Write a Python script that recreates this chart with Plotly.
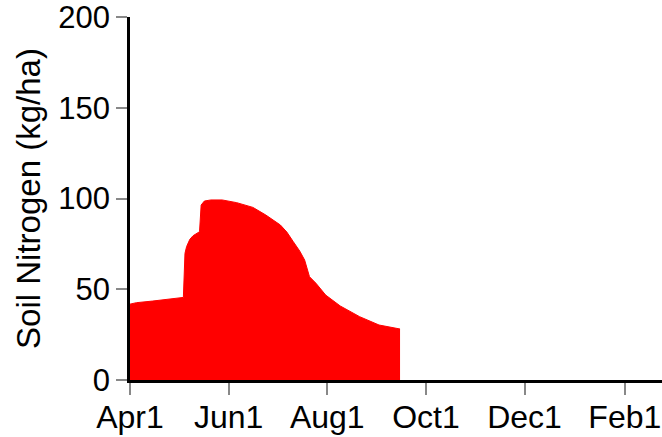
import plotly.graph_objects as go

dates = ["2001-04-01", "2001-04-05", "2001-04-15", "2001-04-25", "2001-05-04",
         "2001-05-05", "2001-05-06", "2001-05-08", "2001-05-10", "2001-05-14",
         "2001-05-15", "2001-05-17", "2001-05-21", "2001-05-28", "2001-06-06",
         "2001-06-16", "2001-06-24", "2001-07-03", "2001-07-07", "2001-07-11",
         "2001-07-15", "2001-07-18", "2001-07-21", "2001-07-25", "2001-07-31",
         "2001-08-09", "2001-08-21", "2001-09-02", "2001-09-09", "2001-09-15"]
soil_n = [41.8, 42.6, 43.5, 44.5, 45.5,
          69.8, 73.5, 77.5, 79.5, 81.7,
          96.4, 98.6, 99.2, 99.2, 97.7,
          95.1, 90.9, 85.4, 81.5, 76.2,
          71.0, 66.1, 56.9, 53.3, 46.8,
          40.8, 34.9, 30.3, 29.0, 28.1]

tick_dates = ["2001-04-01", "2001-06-01", "2001-08-01", "2001-10-01", "2001-12-01", "2002-02-01"]
tick_labels = ["Apr1", "Jun1", "Aug1", "Oct1", "Dec1", "Feb1"]
y_ticks = [0, 50, 100, 150, 200]

FONT = "Liberation Sans, Arial, sans-serif"

fig = go.Figure()
fig.add_trace(go.Scatter(
    x=dates, y=soil_n, mode="lines", fill="tozeroy",
    fillcolor="#ff0000", line=dict(color="#ff0000", width=1),
    showlegend=False, hoverinfo="skip",
))

fig.update_layout(
    width=662, height=437,
    margin=dict(l=130, r=0, t=17, b=57, autoexpand=False),
    paper_bgcolor="white", plot_bgcolor="white",
    font=dict(family=FONT, size=31, color="black"),
    showlegend=False,
)
fig.update_xaxes(
    type="date", range=["2001-04-01", "2002-02-24"],
    tickvals=tick_dates, ticktext=tick_labels,
    showgrid=False, zeroline=False,
    showline=True, linecolor="black", linewidth=2.5,
    ticks="outside", ticklen=12, tickwidth=2, tickcolor="#888888",
    tickfont=dict(family=FONT, size=32, color="black"),
    ticklabelstandoff=-5, ticklabeloverflow="allow",
    automargin=False,
)
fig.update_yaxes(
    range=[0, 200], tickvals=y_ticks,
    showgrid=False, zeroline=False,
    showline=True, linecolor="black", linewidth=2.5,
    ticks="outside", ticklen=11, tickwidth=2, tickcolor="#888888",
    tickfont=dict(family=FONT, size=31, color="black"),
    ticklabeloverflow="allow",
    title=dict(text="Soil Nitrogen (kg/ha)", font=dict(family=FONT, size=33, color="black"), standoff=8),
    automargin=False,
)

fig.write_html("out.html", config={"displayModeBar": False},
               post_script="document.body.style.margin='0';document.body.style.overflow='hidden';")
